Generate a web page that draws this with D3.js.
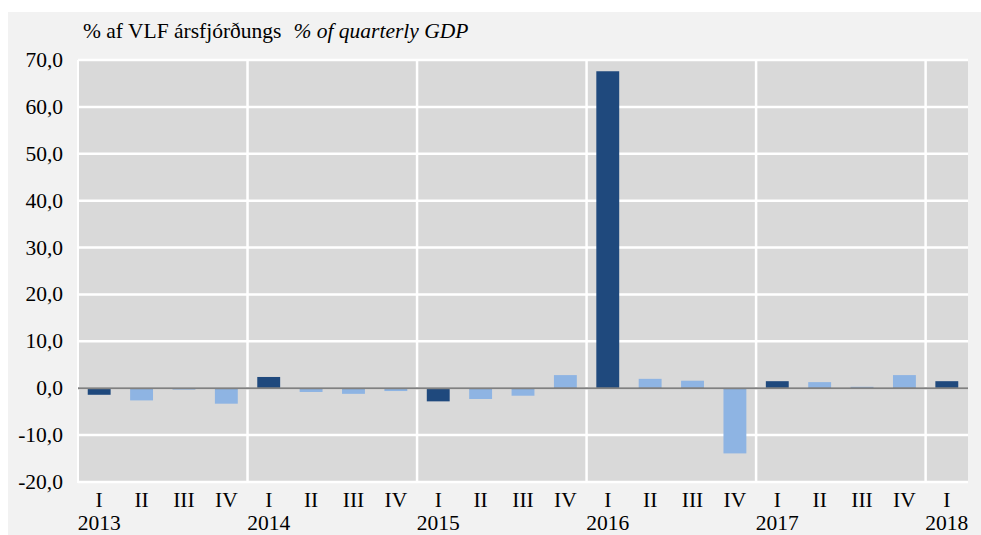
<!DOCTYPE html>
<html>
<head>
<meta charset="utf-8">
<script src="https://cdn.jsdelivr.net/npm/d3@7"></script>
<style>
  body { margin: 0; background: #ffffff; }
  text { font-family: "Liberation Serif", "Times New Roman", serif; fill: #000; }
</style>
</head>
<body>
<div id="chart"></div>
<script>
// data
var years = ["2013", "2014", "2015", "2016", "2017", "2018"];
var quarters = ["I", "II", "III", "IV"];
var labels = [
  "2013 I", "2013 II", "2013 III", "2013 IV",
  "2014 I", "2014 II", "2014 III", "2014 IV",
  "2015 I", "2015 II", "2015 III", "2015 IV",
  "2016 I", "2016 II", "2016 III", "2016 IV",
  "2017 I", "2017 II", "2017 III", "2017 IV",
  "2018 I"
];
var values = [-1.4, -2.6, -0.3, -3.3,
              2.4, -0.8, -1.2, -0.6,
              -2.8, -2.3, -1.6, 2.8,
              67.6, 2.0, 1.6, -13.9,
              1.5, 1.3, 0.3, 2.8,
              1.5];
var yTicks = [-20, -10, 0, 10, 20, 30, 40, 50, 60, 70];

var svgWidth = 981;
var svgHeight = 535;
var margin = {top: 60, right: 13, bottom: 53, left: 78};
var width = 968 - margin.left;
var height = 482 - margin.top;

var svg = d3.select("#chart")
    .append("svg")
    .attr("width", svgWidth)
    .attr("height", svgHeight);

// outer panel
svg.append("rect")
    .attr("x", 8).attr("y", 12)
    .attr("width", svgWidth - 8).attr("height", svgHeight - 12)
    .attr("fill", "#f2f2f2");

var title = svg.append("text")
    .attr("x", 83).attr("y", 38)
    .style("font-size", "21.5px");
title.append("tspan").text("% af VLF ársfjórðungs");
title.append("tspan")
    .attr("dx", 12)
    .style("font-style", "italic")
    .text("% of quarterly GDP");

var g = svg.append("g")
    .attr("transform", `translate(${margin.left}, ${margin.top})`);

var x = d3.scaleBand().domain(labels).range([0, width]).paddingInner(0.46).paddingOuter(0.23);
var y = d3.scaleLinear().domain([-20, 70]).range([height, 0]);

g.append("rect")
    .attr("width", width).attr("height", height)
    .attr("fill", "#d9d9d9");

// horizontal gridlines
g.selectAll(".hgrid")
    .data(yTicks)
    .enter()
    .append("line")
    .attr("x1", 0).attr("x2", width)
    .attr("y1", d => y(d)).attr("y2", d => y(d))
    .attr("stroke", "#ffffff")
    .attr("stroke-width", 2.5);

// year separators
var step = x.step();
g.selectAll(".vgrid")
    .data(years.slice(1))
    .enter()
    .append("line")
    .attr("x1", (d, i) => (i + 1) * 4 * step)
    .attr("x2", (d, i) => (i + 1) * 4 * step)
    .attr("y1", 0).attr("y2", height)
    .attr("stroke", "#ffffff")
    .attr("stroke-width", 2.5);

g.append("line").attr("x1", 0).attr("x2", 0).attr("y1", 0).attr("y2", height + 1)
    .attr("stroke", "#ffffff").attr("stroke-width", 2);

g.selectAll(".bar")
    .data(values)
    .enter()
    .append("rect")
    .attr("x", (d, i) => x(labels[i]))
    .attr("width", x.bandwidth())
    .attr("y", d => y(Math.max(0, d)))
    .attr("height", d => Math.abs(y(d) - y(0)))
    .attr("fill", (d, i) => i % 4 === 0 ? "#1f497d" : "#8eb4e3");

// zero line
g.append("line")
    .attr("x1", 0).attr("x2", width)
    .attr("y1", y(0)).attr("y2", y(0))
    .attr("stroke", "#808080")
    .attr("stroke-width", 2);

// y axis labels
g.selectAll(".ylab")
    .data(yTicks)
    .enter()
    .append("text")
    .attr("x", -15)
    .attr("y", d => y(d) + 7)
    .attr("text-anchor", "end")
    .style("font-size", "21.5px")
    .text(d => d.toFixed(1).replace(".", ","));

// quarter labels
g.selectAll(".qlab")
    .data(labels)
    .enter()
    .append("text")
    .attr("x", d => x(d) + x.bandwidth() / 2)
    .attr("y", height + 25)
    .attr("text-anchor", "middle")
    .style("font-size", "21.5px")
    .text((d, i) => quarters[i % 4]);

// year labels
g.selectAll(".ylabel")
    .data(years)
    .enter()
    .append("text")
    .attr("x", (d, i) => x(labels[i * 4]) + x.bandwidth() / 2)
    .attr("y", height + 48)
    .attr("text-anchor", "middle")
    .style("font-size", "21.5px")
    .text(d => d);
</script>
</body>
</html>
